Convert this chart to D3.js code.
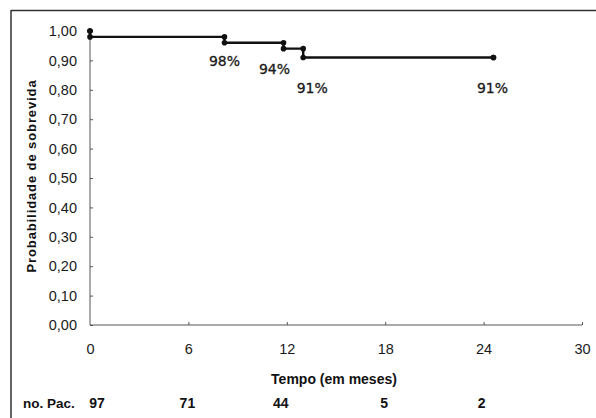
<!DOCTYPE html>
<html>
<head>
<meta charset="utf-8">
<script src="https://cdn.jsdelivr.net/npm/d3@7"></script>
<style>
  html, body { margin: 0; padding: 0; background: #fff; }
  svg { display: block; }
</style>
</head>
<body>
<svg id="chart" width="596" height="418"></svg>
<script>
// Kaplan-Meier survival steps
const stepTimes = [0, 0, 8.2, 11.8, 13.0, 24.6];
const stepSurv  = [1.00, 0.98, 0.96, 0.94, 0.91, 0.91];

// annotation labels
const labelTimes = [8.2, 11.8, 13.0, 24.6];
const labelTexts = ["98%", "94%", "91%", "91%"];
const labelSurv  = [0.98, 0.94, 0.91, 0.91];

// axis ticks
const xTicks = [0, 6, 12, 18, 24, 30];
const yTicks = [0, 0.1, 0.2, 0.3, 0.4, 0.5, 0.6, 0.7, 0.8, 0.9, 1.0];

// numbers at risk
const riskTimes  = [0, 6, 12, 18, 24];
const riskCounts = [97, 71, 44, 5, 2];

const svg = d3.select("#chart");
const x = d3.scaleLinear().domain([0, 30]).range([90, 582]);
const y = d3.scaleLinear().domain([0, 1]).range([325, 31]);

// frame (top + left)
svg.append("line").attr("x1", 11).attr("x2", 596).attr("y1", 10.5).attr("y2", 10.5)
  .attr("stroke", "#333").attr("stroke-width", 1.5);
svg.append("line").attr("x1", 11).attr("x2", 11).attr("y1", 10).attr("y2", 418)
  .attr("stroke", "#333").attr("stroke-width", 1.5);

const tickFont = "'Liberation Sans', Arial, sans-serif";
const fmt = v => d3.format(".2f")(v).replace(".", ",");

// Y axis
const yAxis = svg.append("g").attr("transform", `translate(${x(0)},0)`)
  .call(d3.axisRight(y).tickValues(yTicks).tickSize(3).tickFormat(fmt));
yAxis.select(".domain").attr("stroke", "#555").attr("d", `M0,${y(0)}V${y(1) - 3}`);
yAxis.selectAll(".tick line").attr("stroke", "#555");
yAxis.selectAll(".tick text")
  .attr("x", -13).attr("text-anchor", "end")
  .attr("font-family", tickFont).attr("font-size", 14.5).attr("fill", "#1a1a1a");

// X axis
const xAxis = svg.append("g").attr("transform", `translate(0,${y(0)})`)
  .call(d3.axisTop(x).tickValues(xTicks).tickSize(3).tickFormat(d3.format("d")));
xAxis.select(".domain").attr("stroke", "#555").attr("d", `M${x(0)},0H${x(30)}`);
xAxis.selectAll(".tick line").attr("stroke", "#555");
xAxis.selectAll(".tick").filter(d => d === 0).select("line").remove();
xAxis.selectAll(".tick text")
  .attr("y", 24).attr("dy", "0.35em")
  .attr("font-family", tickFont).attr("font-size", 14.5).attr("fill", "#1a1a1a");

// Axis titles
svg.append("text").attr("x", 334).attr("y", 379).attr("dy", "0.35em")
  .attr("text-anchor", "middle").attr("font-family", tickFont)
  .attr("font-weight", "bold").attr("font-size", 14).attr("fill", "#111")
  .text("Tempo (em meses)");
svg.append("text").attr("transform", "translate(31,176) rotate(-90)").attr("dy", "0.35em")
  .attr("text-anchor", "middle").attr("font-family", tickFont)
  .attr("font-weight", "bold").attr("font-size", 13).attr("letter-spacing", 0.9)
  .attr("fill", "#111")
  .text("Probabilidade de sobrevida");

// Survival step line
const pts = stepTimes.map((t, i) => [t, stepSurv[i]]);
const stepPath = [];
pts.forEach((p, i) => {
  if (i > 0) stepPath.push([p[0], pts[i - 1][1]]);
  stepPath.push(p);
});
svg.append("path")
  .attr("d", d3.line().x(d => x(d[0])).y(d => y(d[1]))(stepPath))
  .attr("fill", "none").attr("stroke", "#111").attr("stroke-width", 2.4);

svg.append("g").selectAll("circle").data(stepPath).join("circle")
  .attr("cx", d => x(d[0])).attr("cy", d => y(d[1])).attr("r", 2.8).attr("fill", "#111");

// annotation labels
const labelFont = "'DejaVu Sans', Verdana, sans-serif";
const labelOffsets = [[0, 24], [-9, 20], [9, 31], [-1, 31]];
svg.append("g").selectAll("text").data(labelTexts).join("text")
  .attr("x", (d, i) => x(labelTimes[i]) + labelOffsets[i][0])
  .attr("y", (d, i) => y(labelSurv[i]) + labelOffsets[i][1])
  .attr("dy", "0.35em").attr("text-anchor", "middle")
  .attr("font-family", labelFont).attr("font-size", 14).attr("fill", "#1a1a1a")
  .attr("stroke", "#1a1a1a").attr("stroke-width", 0.3)
  .text(d => d);

// numbers at risk
svg.append("text").attr("x", 23).attr("y", 403).attr("dy", "0.35em")
  .attr("font-family", tickFont).attr("font-weight", "bold").attr("font-size", 13.5)
  .attr("fill", "#111").text("no. Pac.");
const riskOffsets = [7, -1, -6, -1, -2];
svg.append("g").selectAll("text").data(riskCounts).join("text")
  .attr("x", (d, i) => x(riskTimes[i]) + riskOffsets[i])
  .attr("y", 403).attr("dy", "0.35em").attr("text-anchor", "middle")
  .attr("font-family", tickFont).attr("font-weight", "bold").attr("font-size", 14)
  .attr("fill", "#111").text(d => d);
</script>
</body>
</html>
